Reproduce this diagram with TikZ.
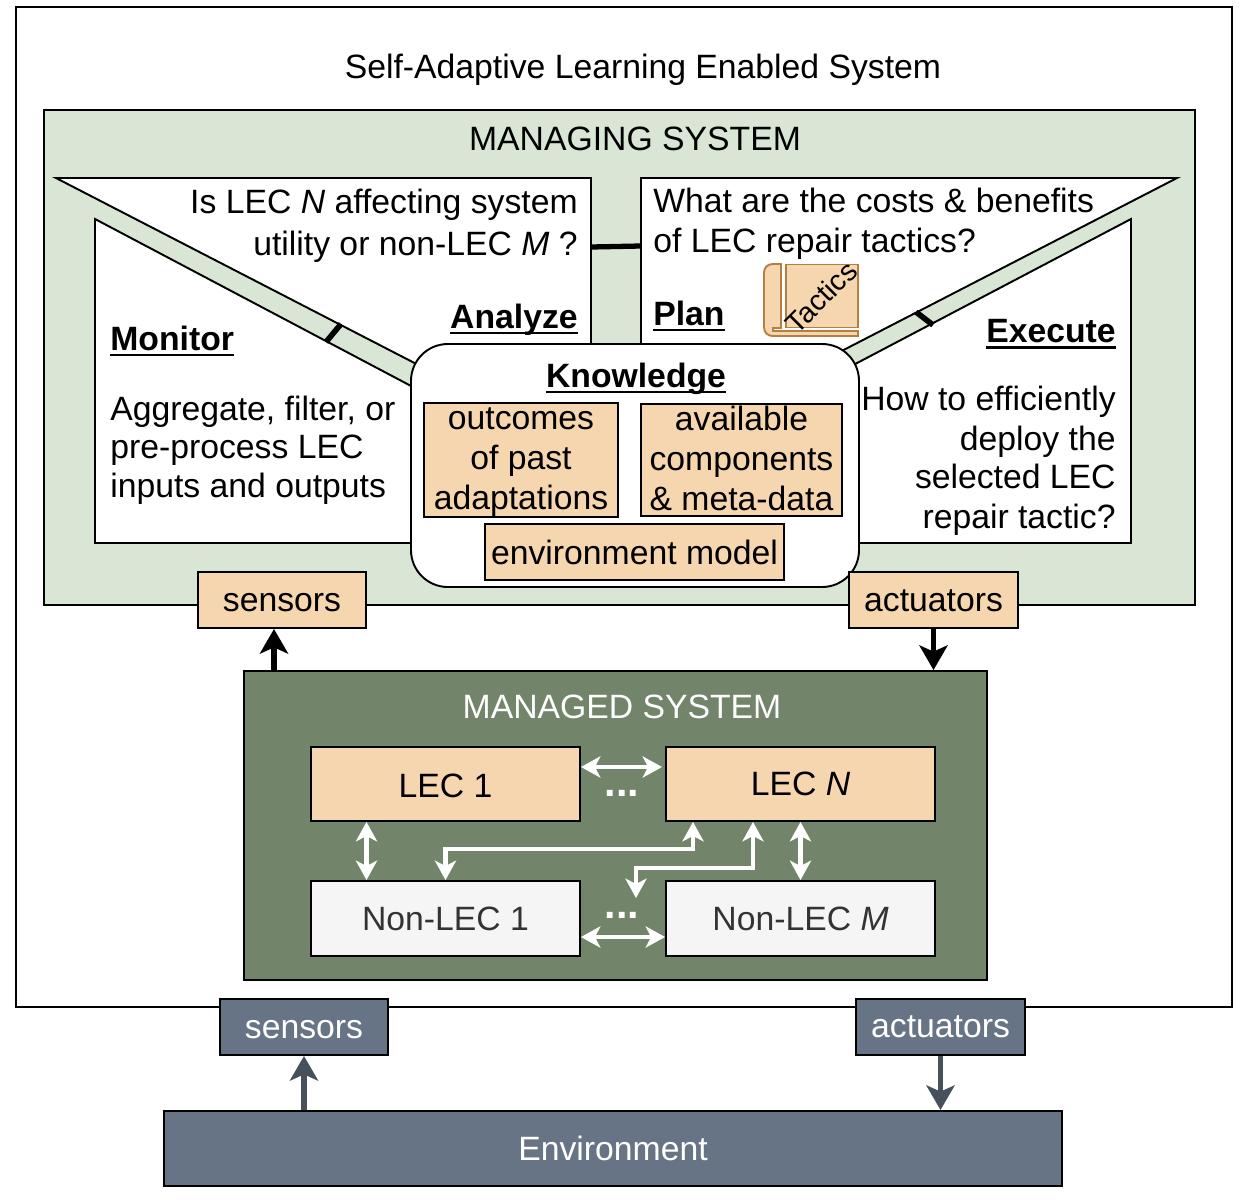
\documentclass[tikz,border=0pt]{standalone}
\usepackage{fontspec}
\setmainfont{Liberation Sans}
\newcommand{\headword}[1]{\setbox0=\hbox{\textbf{#1}}\dp0=0pt \vtop{\box0 \kern2.2pt \hrule height 1.2pt}}
\usetikzlibrary{arrows.meta, positioning}
\definecolor{mgrgreen}{HTML}{D9E6D5}
\definecolor{mgdgreen}{HTML}{72856A}
\definecolor{slate}{HTML}{667486}
\definecolor{tan}{HTML}{F5D6AE}
\definecolor{tanline}{HTML}{B5803F}
\definecolor{pale}{HTML}{F5F5F5}
\tikzset{
    txt/.style = {inner sep=0pt, align=#1, font=\fontsize{19.2}{22.8}\selectfont},
    txt/.default = center,
    sz/.style 2 args = {minimum width=#1*0.02cm, minimum height=#2*0.02cm},
    box/.style = {draw, line width=1.1pt, inner sep=0pt, txt},
    blackarrow/.style = {line width=2.9pt, -{Stealth[length=14pt, width=16pt, inset=3.5pt]}},
    whitearrow/.style = {white, line width=2.8pt, {Stealth[length=11pt, width=12pt, inset=3pt]}-{Stealth[length=11pt, width=12pt, inset=3pt]}},
    panel/.style = {draw, fill=white, line width=1.1pt, line join=miter},
    dotlabel/.style = {inner sep=0pt, text=white, font=\fontsize{23.5}{26}\selectfont\bfseries},
}

\begin{document}
\begin{tikzpicture}[x=0.02cm, y=-0.02cm]
    \useasboundingbox (0,0) rectangle (1242,1204);

    % outer system
    \node[box,sz={1216}{1000},fill=white] (system) at (624,507) {};
    \node[txt] (title) at (643,70) {Self-Adaptive Learning Enabled System};

    % managing system
    \node[box,sz={1151}{495},fill=mgrgreen] (managing) at (619.5,357.5) {};
    \node[txt] (managingtitle) at (635,139) {MANAGING SYSTEM};

    % MAPE panels
    \draw[panel] (56,178) -- (591,178) -- (591,371) -- (430,371) -- cycle;
    \draw[panel] (95,219) -- (430,396) -- (430,543) -- (95,543) -- cycle;
    \draw[panel] (641,178) -- (1177,178) -- (830,357) -- (830,371) -- (641,371) -- cycle;
    \draw[panel] (1131,219) -- (840,372) -- (840,543) -- (1131,543) -- cycle;

    % links between panels
    \coordinate (analyzeedge) at (591,247);
    \coordinate (planedge) at (641,246);
    \draw[line width=3pt] (analyzeedge) -- (planedge);
    \coordinate (montick) at (326,342);
    \coordinate (anatick) at (341,324);
    \draw[line width=3.2pt] (montick) -- (anatick);
    \coordinate (plantick) at (916,312);
    \coordinate (exetick) at (933,325);
    \draw[line width=3.2pt] (plantick) -- (exetick);

    \node[txt=right,anchor=east] (analyzeq) at (578,226) {Is LEC \textit{N} affecting system\\[1.3pt]utility or non-LEC \textit{M} ?};
    \node[txt,anchor=east] (analyze) at (578,319) {\headword{Analyze}};
    \node[txt=left,anchor=west] (planq) at (653,224) {What are the costs \& benefits\\of LEC repair tactics?};
    \node[txt,anchor=west] (plan) at (653,316) {\headword{Plan}};
    \node[txt,anchor=west] (monitor) at (110,341) {\headword{Monitor}};
    \node[txt=left,anchor=west] (monitorq) at (110,450) {Aggregate, filter, or\\[-1pt]pre-process LEC\\[-1pt]inputs and outputs};
    \node[txt,anchor=east] (execute) at (1116,334) {\headword{Execute}};
    \node[txt=right,anchor=east] (executeq) at (1116,461) {How to efficiently\\deploy the\\[-1pt]selected LEC\\repair tactic?};

    % tactics book
    \filldraw[fill=tan, draw=tanline, line width=1.1pt] (781,264) -- (773,264) .. controls (767,264) and (764,268) .. (764,273) -- (764,327) .. controls (764,333) and (768,336) .. (773,336) -- (858,336) -- (858,331) -- (773,331) -- (773,328) -- (781,328) -- cycle;
    \node[box,sz={72}{63},fill=tan,draw=tanline] (book) at (822,296) {};
    \node[inner sep=0pt, rotate=45, font=\fontsize{16.3}{18}\selectfont] (tactics) at (821,297) {Tactics};

    % knowledge
    \node[box,sz={448}{243},fill=white,rounded corners=21pt] (knowledge) at (635,465.5) {};
    \node[txt] (knowledgetitle) at (636,378) {\headword{Knowledge}};
    \node[box,sz={194}{112},fill=tan] (outcomes) at (521,460) {\rule{0pt}{15pt}outcomes\\of past\\adaptations\rule[-3pt]{0pt}{3pt}};
    \node[box,sz={201}{112},fill=tan] (available) at (741.5,460) {\rule{0pt}{15pt}available\\components\\\& meta-data\rule[-3pt]{0pt}{3pt}};
    \node[box,sz={299}{56},fill=tan] (envmodel) at (634.5,552) {environment model};

    % probes of the managing system
    \node[box,sz={168}{56},fill=tan,text height=13pt] (sensorsup) at (282,600) {sensors};
    \node[box,sz={169}{56},fill=tan,text height=13pt] (actuatorsup) at (933.5,600) {actuators};

    % managed system
    \node[box,sz={743}{309},fill=mgdgreen] (managed) at (615.5,825.5) {};
    \node[txt,text=white] (managedtitle) at (622,707) {MANAGED SYSTEM};
    \node[box,sz={269}{74},fill=tan,text height=15pt] (lec1) at (445.5,784) {LEC 1};
    \node[box,sz={269}{74},fill=tan] (lecn) at (800.5,784) {LEC \textit{N}};
    \node[box,sz={269}{75},fill=pale,text=black!80] (non1) at (445.5,918.5) {Non-LEC 1};
    \node[box,sz={269}{75},fill=pale,text=black!80] (nonm) at (800.5,918.5) {Non-LEC \textit{M}};
    \node[dotlabel] (dotsup) at (622,793) {...};
    \node[dotlabel] (dotsdown) at (622,915) {...};
    \coordinate (loose) at (636,898);

    \draw[whitearrow] ([yshift=17*0.02cm]lec1.east) -- ([yshift=17*0.02cm,xshift=-3*0.02cm]lecn.west);
    \draw[whitearrow] ([yshift=-18.5*0.02cm]non1.east) -- ([yshift=-18.5*0.02cm]nonm.west);
    \draw[whitearrow] ([xshift=-79*0.02cm]lec1.south) -- ([xshift=-79*0.02cm]non1.north);
    \draw[whitearrow] (lecn.south) -- (nonm.north);
    \draw[whitearrow] (non1.north) |- (693,849) -- ([xshift=-107.5*0.02cm]lecn.south);
    \draw[whitearrow] (loose) |- (753,868) -- ([xshift=-47.5*0.02cm]lecn.south);

    \draw[blackarrow] ([xshift=-8*0.02cm]managed.north -| sensorsup.south) -- ([xshift=-8*0.02cm]sensorsup.south);
    \draw[blackarrow] (actuatorsup.south) -- (managed.north -| actuatorsup.south);

    % environment
    \node[box,sz={168}{56},fill=slate,text=white,text height=13pt] (sensorsdown) at (304,1027) {sensors};
    \node[box,sz={169}{56},fill=slate,text=white] (actuatorsdown) at (940.5,1027) {actuators};
    \node[box,sz={898}{75},fill=slate,text=white] (env) at (613,1148.5) {Environment};

    \draw[blackarrow,draw=slate!70!black,fill=slate!70!black] (env.north -| sensorsdown.south) -- (sensorsdown.south);
    \draw[blackarrow,draw=slate!70!black,fill=slate!70!black] (actuatorsdown.south) -- (env.north -| actuatorsdown.south);
\end{tikzpicture}
\end{document}
